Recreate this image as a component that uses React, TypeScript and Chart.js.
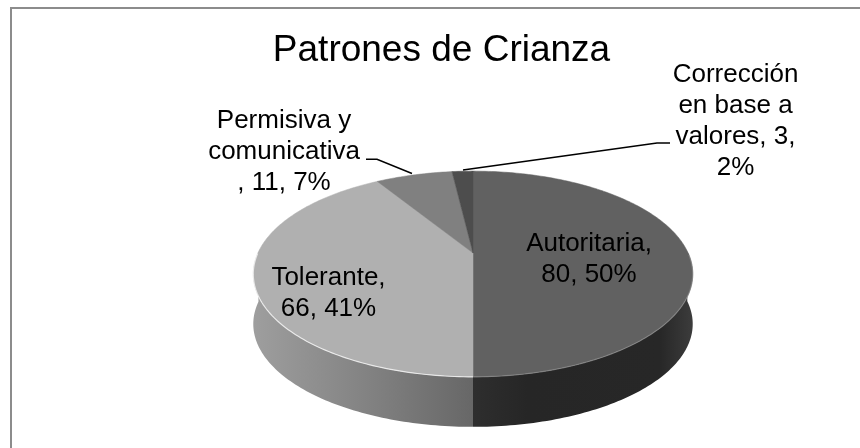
import React, { useEffect, useRef } from "react";
import { Chart, registerables } from "chart.js";

Chart.register(...registerables);

const chartTitle = "Patrones de Crianza";
const categories = ["Autoritaria", "Tolerante", "Permisiva y comunicativa", "Corrección en base a valores"];
const values = [80, 66, 11, 3];
const labelLines = [
  ["Autoritaria,", "80, 50%"],
  ["Tolerante,", "66, 41%"],
  ["Permisiva y", "comunicativa", ", 11, 7%"],
  ["Corrección", "en base a", "valores, 3,", "2%"],
];
const sliceColors = ["#616161", "#b0b0b0", "#808080", "#4d4d4d"];

// Presentation constants of the tilted pie
const SHIFT_X = 31.5;
const H_SCALE = 1.178;
const V_SCALE = 0.5399;
const TILT = 0.204;
const DEPTH = 50;
const LABEL_FONT = '26px "Liberation Sans", Arial, sans-serif';
const labelAnchors = [
  { x: 589, y: 250.5, lh: 31.5 },
  { x: 328.5, y: 284.5, lh: 31.5 },
  { x: 284, y: 128, lh: 31 },
  { x: 735.5, y: 82, lh: 31 },
];
const leaderLines = [
  null,
  null,
  [[366, 159.3], [377, 159.3], [412, 173.5]],
  [[463, 170], [657, 143], [670, 143]],
];

function project(arc: any, angle: number) {
  const u = Math.cos(angle);
  const v = -Math.sin(angle);
  const w = 1 + TILT * v;
  return {
    x: arc.x + SHIFT_X + (H_SCALE * arc.outerRadius * u) / w,
    y: arc.y - (V_SCALE * arc.outerRadius * v) / w,
  };
}

function rimPoints(arc: any, from: number, to: number) {
  const pts: { x: number; y: number }[] = [];
  const n = Math.max(2, Math.ceil(((to - from) * 180) / Math.PI));
  for (let i = 0; i <= n; i++) pts.push(project(arc, from + ((to - from) * i) / n));
  return pts;
}

const tiltedPie = {
  id: "tiltedPie",
  beforeDraw(chart: any) {
    const { ctx, width, height } = chart;
    ctx.save();
    ctx.fillStyle = "#ffffff";
    ctx.fillRect(0, 0, width, height);
    ctx.fillStyle = "#8c8c8c";
    ctx.fillRect(10, 7, width - 10, 2);
    ctx.fillRect(10, 7, 2, height - 7);
    ctx.restore();
  },
  beforeDatasetDraw(chart: any) {
    const { ctx } = chart;
    const arcs = chart.getDatasetMeta(0).data;
    const first = arcs[0];

    // side wall: one horizontal gradient for each slice that faces the viewer
    const walls = [
      { slice: 0, stops: [[0, "#2e2e2e"], [0.25, "#262626"], [0.85, "#272727"], [1, "#3c3c3c"]] },
      { slice: 1, stops: [[0, "#9e9e9e"], [0.45, "#868686"], [1, "#676767"]] },
    ];
    const cx = first.x + SHIFT_X;
    const hw = H_SCALE * first.outerRadius / Math.sqrt(1 - TILT * TILT);
    ctx.save();
    ctx.filter = "blur(0.6px)";
    walls.forEach(({ slice, stops }) => {
      const arc = arcs[slice];
      const pts = rimPoints(arc, arc.startAngle, arc.endAngle).filter((p) => p.y > arc.y - 2);
      const g = slice === 0
        ? ctx.createLinearGradient(cx, 0, cx + hw, 0)
        : ctx.createLinearGradient(cx - hw, 0, cx, 0);
      stops.forEach(([o, c]: any) => g.addColorStop(o, c));
      ctx.beginPath();
      pts.forEach((p, i) => (i ? ctx.lineTo(p.x, p.y) : ctx.moveTo(p.x, p.y)));
      [...pts].reverse().forEach((p) => ctx.lineTo(p.x, p.y + DEPTH));
      ctx.closePath();
      ctx.fillStyle = g;
      ctx.fill();
    });
    ctx.restore();

    // top face
    arcs.forEach((arc: any, i: number) => {
      const pts = rimPoints(arc, arc.startAngle, arc.endAngle);
      ctx.beginPath();
      ctx.moveTo(arc.x + SHIFT_X, arc.y);
      pts.forEach((p) => ctx.lineTo(p.x, p.y));
      ctx.closePath();
      ctx.fillStyle = sliceColors[i];
      ctx.strokeStyle = sliceColors[i];
      ctx.lineWidth = 0.5;
      ctx.fill();
      ctx.stroke();
    });

    // rim highlight along the near edge
    ctx.save();
    ctx.lineWidth = 1.2;
    [arcs[0], arcs[1]].forEach((arc: any, i: number) => {
      const pts = rimPoints(arc, arc.startAngle, arc.endAngle).filter((p) => p.y > arc.y);
      ctx.strokeStyle = i === 0 ? "rgba(150,150,150,0.55)" : "rgba(255,255,255,0.7)";
      ctx.beginPath();
      pts.forEach((p, j) => (j ? ctx.lineTo(p.x, p.y) : ctx.moveTo(p.x, p.y)));
      ctx.stroke();
    });
    ctx.restore();
    return false;
  },
  afterDatasetsDraw(chart: any) {
    const { ctx } = chart;
    ctx.save();
    ctx.strokeStyle = "#000000";
    ctx.lineWidth = 1.5;
    leaderLines.forEach((line) => {
      if (!line) return;
      ctx.beginPath();
      line.forEach(([x, y], i) => (i ? ctx.lineTo(x, y) : ctx.moveTo(x, y)));
      ctx.stroke();
    });
    ctx.fillStyle = "#000000";
    ctx.font = LABEL_FONT;
    ctx.textAlign = "center";
    ctx.textBaseline = "alphabetic";
    labelLines.forEach((lines, i) => {
      const a = labelAnchors[i];
      lines.forEach((t, j) => ctx.fillText(t, a.x, a.y + j * a.lh));
    });
    ctx.restore();
  },
};

export default function App() {
  const ref = useRef<HTMLCanvasElement>(null);
  useEffect(() => {
    document.body.style.margin = "0";
    const chart = new Chart(ref.current as HTMLCanvasElement, {
      type: "pie",
      data: {
        labels: categories,
        datasets: [{ data: values, backgroundColor: sliceColors, borderWidth: 0 }],
      },
      options: {
        responsive: false,
        animation: false,
        layout: { padding: { left: 23, right: 0, top: 32, bottom: 12.4 } },
        plugins: {
          legend: { display: false },
          tooltip: { enabled: false },
          title: {
            display: true,
            text: chartTitle,
            color: "#000000",
            padding: 0,
            font: { family: '"Liberation Sans", Arial, sans-serif', size: 37, weight: "normal", lineHeight: 1.0378 },
          },
        },
      },
      plugins: [tiltedPie],
    } as any);
    return () => chart.destroy();
  }, []);
  return <canvas ref={ref} width={860} height={448} style={{ display: "block" }} />;
}
